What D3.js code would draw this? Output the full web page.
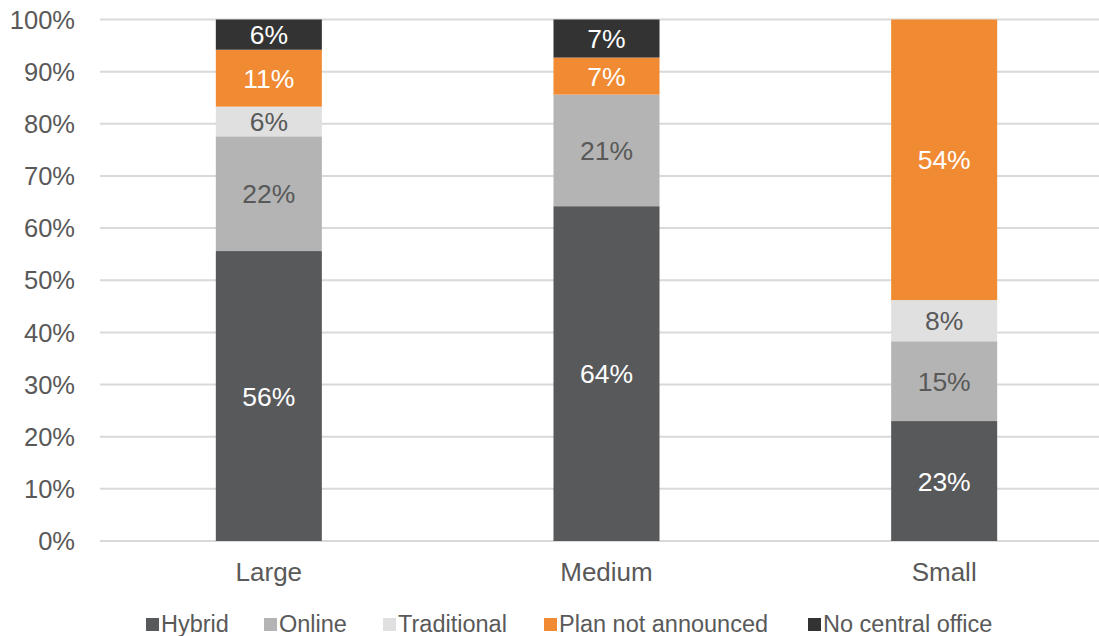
<!DOCTYPE html>
<html>
<head>
<meta charset="utf-8">
<script src="https://cdn.jsdelivr.net/npm/d3@7"></script>
<style>
  body { margin: 0; background: #fff; }
  text { font-family: "Liberation Sans", Arial, sans-serif; }
</style>
</head>
<body>
<svg id="chart" width="1099" height="636"></svg>
<script>
var categories = ["Large", "Medium", "Small"];
var seriesNames = ["Hybrid", "Online", "Traditional", "Plan not announced", "No central office"];
var hybrid = [55.6, 64.2, 23.0];
var online = [22.0, 21.4, 15.3];
var traditional = [5.7, 0, 7.9];
var planNotAnnounced = [10.9, 7.1, 53.8];
var noCentralOffice = [5.8, 7.3, 0];
var yTicks = [0, 10, 20, 30, 40, 50, 60, 70, 80, 90, 100];

var colors = ["#58595b", "#b4b4b4", "#e0e0e0", "#f08a33", "#333333"];
var labelColors = ["#ffffff", "#595959", "#595959", "#ffffff", "#ffffff"];

var svg = d3.select("#chart");
var allSeries = [hybrid, online, traditional, planNotAnnounced, noCentralOffice];

var rows = categories.map(function(c, i) {
    var r = { cat: c };
    seriesNames.forEach(function(s, j) { r[s] = allSeries[j][i]; });
    return r;
});

var stacked = d3.stack().keys(seriesNames)(rows);

var x = d3.scaleBand()
    .domain(categories)
    .range([100, 1113])
    .paddingInner(0.686)
    .paddingOuter(0.343);

var y = d3.scaleLinear()
    .domain([0, 100])
    .range([541, 19.5]);

// grid
svg.append("g")
    .selectAll("line")
    .data(yTicks)
    .enter()
    .append("line")
    .attr("x1", 100)
    .attr("x2", 1113)
    .attr("y1", d => y(d))
    .attr("y2", d => y(d))
    .attr("stroke", "#d9d9d9")
    .attr("stroke-width", 2);

// y labels
svg.append("g")
    .selectAll("text")
    .data(yTicks)
    .enter()
    .append("text")
    .attr("x", 75)
    .attr("y", d => y(d))
    .attr("dy", "0.36em")
    .attr("text-anchor", "end")
    .attr("font-size", 25.5)
    .attr("fill", "#595959")
    .text(d => d + "%");

// bars
var layers = svg.append("g")
    .selectAll("g")
    .data(stacked)
    .enter()
    .append("g")
    .attr("fill", (d, i) => colors[i]);

layers.selectAll("rect")
    .data(d => d)
    .enter()
    .append("rect")
    .attr("x", d => x(d.data.cat))
    .attr("width", x.bandwidth())
    .attr("y", d => y(d[1]))
    .attr("height", d => y(d[0]) - y(d[1]));

// data labels
stacked.forEach(function(layer, i) {
    svg.append("g")
        .selectAll("text")
        .data(layer.filter(d => d[1] - d[0] > 0))
        .enter()
        .append("text")
        .attr("x", d => x(d.data.cat) + x.bandwidth() / 2)
        .attr("y", d => y((d[0] + d[1]) / 2))
        .attr("dy", "0.36em")
        .attr("text-anchor", "middle")
        .attr("font-size", 26.5)
        .attr("fill", labelColors[i])
        .text(d => Math.round(d[1] - d[0]) + "%");
});

// category labels
svg.append("g")
    .selectAll("text")
    .data(categories)
    .enter()
    .append("text")
    .attr("x", d => x(d) + x.bandwidth() / 2)
    .attr("y", 581)
    .attr("text-anchor", "middle")
    .attr("font-size", 26)
    .attr("fill", "#595959")
    .text(d => d);

// legend
var legendX = [146, 264, 383, 544, 808];
var legend = svg.append("g")
    .selectAll("g")
    .data(seriesNames)
    .enter()
    .append("g")
    .attr("transform", (d, i) => "translate(" + legendX[i] + ",624)");

legend.append("rect")
    .attr("x", 0)
    .attr("y", -6)
    .attr("width", 13)
    .attr("height", 13)
    .attr("fill", (d, i) => colors[i]);

legend.append("text")
    .attr("x", 15)
    .attr("dy", "0.36em")
    .attr("font-size", 23.5)
    .attr("fill", "#595959")
    .text(d => d);
</script>
</body>
</html>
